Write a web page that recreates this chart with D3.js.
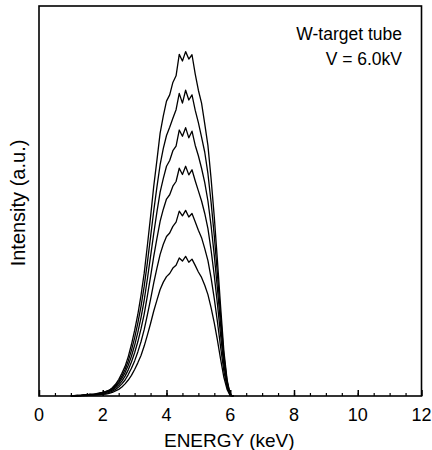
<!DOCTYPE html>
<html>
<head>
<meta charset="utf-8">
<script src="https://cdn.jsdelivr.net/npm/d3@7"></script>
<style>
  body { margin: 0; background: #fff; }
  svg text { font-family: "Liberation Sans", Arial, sans-serif; fill: #000; }
</style>
</head>
<body>
<svg id="chart" width="432" height="450"></svg>
<script>
// energy grid (keV)
var energy = [1.0,1.1,1.2,1.3,1.4,1.5,1.6,1.7,1.8,1.9,2.0,2.1,2.2,2.3,2.4,2.5,2.6,2.7,2.8,2.9,
  3.0,3.1,3.2,3.3,3.4,3.5,3.6,3.7,3.8,3.9,4.0,4.1,4.2,4.3,4.4,4.5,4.6,4.7,4.8,4.9,
  5.0,5.1,5.2,5.3,5.4,5.5,5.6,5.7,5.8,5.9,6.0,6.1];

// intensity (a.u.), six spectra from highest to lowest
var specA = [0,0.1,0.2,0.1,0.3,0.3,0.5,0.4,0.6,0.8,0.9,1.2,1.5,2.1,3.0,4.2,5.8,7.6,10.1,13.2,
  16.8,20.9,25.8,31.5,38.6,46.0,53.8,60.5,67.4,71.8,75.6,77.2,80.4,82.1,87.6,85.9,88.3,86.4,87.5,82.6,
  78.4,75.1,69.8,64.2,55.6,45.8,34.5,22.6,11.5,4.2,0.3,0];
var specB = [0,0.1,0.1,0.2,0.2,0.3,0.4,0.4,0.5,0.7,0.9,1.1,1.4,1.9,2.7,3.7,5.1,6.8,9.0,11.7,
  14.9,18.7,23.0,28.1,34.2,40.8,47.5,53.6,59.3,63.5,66.8,68.9,71.2,73.4,77.6,75.1,78.4,75.9,77.2,73.3,
  70.1,66.4,62.5,57.0,49.6,41.0,31.0,20.3,10.4,3.8,0.3,0];
var specC = [0,0.1,0.1,0.1,0.2,0.3,0.3,0.4,0.5,0.6,0.8,1.0,1.3,1.7,2.4,3.3,4.5,6.0,7.9,10.2,
  13.0,16.3,20.1,24.6,30.0,35.8,41.7,47.2,52.3,55.8,58.9,60.4,62.9,64.1,68.2,66.6,68.8,66.2,67.9,64.3,
  61.6,58.4,54.7,50.0,43.6,36.0,27.3,18.0,9.2,3.4,0.2,0];
var specD = [0,0,0.1,0.1,0.2,0.2,0.3,0.3,0.4,0.5,0.7,0.9,1.1,1.5,2.1,2.8,3.8,5.1,6.7,8.7,
  11.1,13.9,17.2,21.0,25.7,30.6,35.8,40.4,44.8,47.9,50.5,51.6,53.8,55.0,58.4,56.8,58.9,56.7,58.0,55.2,
  52.6,50.0,46.8,42.9,37.3,30.8,23.4,15.4,7.9,2.9,0.2,0];
var specE = [0,0,0.1,0.1,0.1,0.2,0.2,0.3,0.3,0.4,0.5,0.7,0.9,1.2,1.7,2.3,3.1,4.1,5.5,7.1,
  9.0,11.3,13.9,17.0,20.8,24.8,29.0,32.8,36.3,38.9,40.9,41.8,43.5,44.6,47.4,46.2,47.6,45.9,46.8,44.7,
  42.5,40.6,37.8,34.7,30.2,24.9,18.9,12.4,6.4,2.3,0.1,0];
var specF = [0,0,0,0.1,0.1,0.1,0.2,0.2,0.3,0.3,0.4,0.5,0.7,0.9,1.3,1.7,2.3,3.1,4.1,5.3,
  6.8,8.5,10.4,12.8,15.6,18.6,21.8,24.6,27.3,29.2,30.6,31.4,32.8,33.5,35.4,34.6,35.8,34.3,35.1,33.5,
  31.8,30.4,28.4,26.0,22.6,18.7,14.2,9.3,4.8,1.7,0.1,0];

var series = [specA, specB, specC, specD, specE, specF];
var xTickValues = [0,2,4,6,8,10,12];
var legendLines = ["W-target tube", "V = 6.0kV"];

var svg = d3.select("#chart"),
    margin = {left: 39, right: 10.5, top: 6, bottom: 54},
    width = 432 - margin.left - margin.right,
    height = 450 - margin.top - margin.bottom;

var x = d3.scaleLinear().domain([0, 12]).range([0, width]);
var y = d3.scaleLinear().domain([0, 100]).range([height, 0]);

var g = svg.append("g")
    .attr("transform", "translate(" + margin.left + "," + margin.top + ")");

// spectra
var line = d3.line()
    .x(function(d, i) { return x(energy[i]); })
    .y(function(d) { return y(d); });

g.selectAll("path.spec")
  .data(series)
  .enter().append("path")
    .attr("class", "spec")
    .attr("d", line)
    .attr("fill", "none")
    .attr("stroke", "#000")
    .attr("stroke-width", 1.3)
    .attr("stroke-linejoin", "round");

// minor ticks (inward)
var minorAxis = d3.axisTop(x).tickValues(d3.range(0.5, 12, 0.5)).tickSize(3).tickFormat("");
g.append("g")
    .attr("transform", "translate(0," + height + ")")
    .call(minorAxis)
    .call(function(s) { s.select(".domain").remove(); s.selectAll("line").attr("stroke-width", 1.2); });

// major ticks (inward) + labels
var majorAxis = d3.axisTop(x).tickValues(xTickValues).tickSize(6).tickFormat("");
g.append("g")
    .attr("transform", "translate(0," + height + ")")
    .call(majorAxis)
    .call(function(s) { s.select(".domain").remove(); s.selectAll("line").attr("stroke-width", 1.5); });

g.append("g")
    .attr("transform", "translate(0," + height + ")")
    .selectAll("text")
    .data(xTickValues)
    .enter().append("text")
    .attr("x", function(d) { return x(d); })
    .attr("y", 25)
    .attr("text-anchor", "middle")
    .style("font-size", "18px")
    .text(function(d) { return d; });

// frame
g.append("rect")
    .attr("width", width)
    .attr("height", height)
    .attr("fill", "none")
    .attr("stroke", "#000")
    .attr("stroke-width", 1.6);

// axis titles
svg.append("text")
    .attr("x", margin.left + width / 2 - 1)
    .attr("y", 447)
    .attr("text-anchor", "middle")
    .style("font-size", "19px")
    .text("ENERGY (keV)");

svg.append("text")
    .attr("transform", "translate(25," + 203 + ") rotate(-90)")
    .attr("text-anchor", "middle")
    .style("font-size", "20px")
    .text("Intensity (a.u.)");

// legend text
g.selectAll("text.legend")
  .data(legendLines)
  .enter().append("text")
    .attr("class", "legend")
    .attr("x", 363)
    .attr("y", function(d, i) { return 34 + i * 25; })
    .attr("text-anchor", "end")
    .style("font-size", "17.5px")
    .text(function(d) { return d; });
</script>
</body>
</html>
